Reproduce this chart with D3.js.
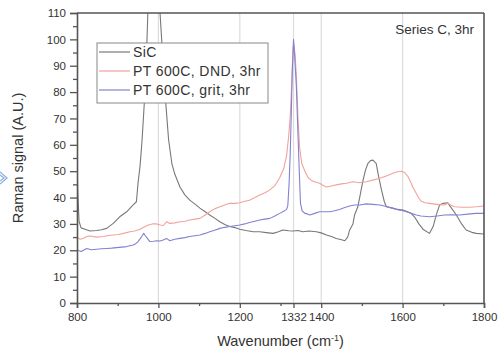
<!DOCTYPE html>
<html><head><meta charset="utf-8">
<script src="https://cdn.jsdelivr.net/npm/d3@7"></script>
<style>
html,body{margin:0;padding:0;background:#fff;}
svg text{font-family:"Liberation Sans",Arial,Helvetica,sans-serif;fill:#333;}
</style></head>
<body><svg id="chart" width="502" height="357"></svg>
<script>
// ---- data ----
const sicWave = [800,802,805,810,820,832,848,860,873,889,905,922,938,946,950,955,960,967,972,976,982,988,995,1004,1010,1017,1025,1033,1040,1053,1065,1077,1090,1102,1115,1126,1140,1151,1163,1175,1188,1200,1215,1233,1249,1265,1282,1295,1306,1320,1331,1343,1355,1370,1388,1400,1413,1425,1437,1450,1458,1465,1470,1478,1482,1490,1497,1503,1509,1515,1521,1527,1535,1541,1548,1555,1560,1576,1588,1601,1612,1621,1630,1640,1650,1666,1675,1683,1691,1700,1711,1720,1732,1745,1756,1770,1781,1800];
const sicSignal = [55,42,31,28.5,28,27.3,27.5,27.8,28.3,30.2,32.7,34.6,37.2,38.4,45.5,52,62,80,100,120,160,180,150,110,95,78,62,53,49,44,41,39,37.5,36,34.6,33.4,32,30.8,29.8,29,28.6,28,27.5,27,27,26.7,26.4,27,27.7,27.4,27.3,27.5,27,27.3,27,26.6,25.8,25.2,24.5,24,23.6,25,27.7,30,33.4,36.5,42,46.7,50.5,53,54,54.2,53,48,43,38.5,36.5,36,35.5,35.3,34.6,34,32.5,30,28,26.4,29,33.5,37.2,37.8,38,36,33.4,30,27.7,26.8,26.4,26.2];

const dndWave = [800,808,815,825,832,848,865,878,889,902,914,930,942,955,965,975,985,996,1004,1012,1020,1028,1040,1053,1065,1077,1090,1102,1115,1126,1138,1151,1163,1175,1188,1200,1212,1224,1237,1249,1262,1274,1286,1298,1308,1315,1320,1324,1328,1331,1333,1336,1339,1343,1347,1352,1360,1368,1376,1387,1396,1405,1413,1425,1437,1450,1462,1478,1494,1511,1527,1544,1560,1576,1588,1597,1605,1613,1620,1625,1632,1638,1645,1655,1666,1680,1690,1703,1711,1720,1728,1745,1764,1782,1800];
const dndSignal = [24.9,24.2,24.5,25.3,25.4,25,25.2,25.6,25.8,26,26.4,27,27.3,28,28.8,29.6,30,30,29.6,29.4,30.8,30.2,30.4,30.8,31,31.5,31.8,32.1,33.4,34.6,35.7,36.5,37.2,37.8,37.8,38,38.6,39,40,41,41.8,42.9,44.5,47.5,51,56,63,71,85,97,98,94,86,70,59,53,50,47.5,46.5,45.8,45.4,44.6,44,44.4,44.8,45.2,45.4,46,45.6,46,46.6,47.3,48.2,49.2,49.8,50,49.5,48,45.8,44,42,40.3,38.7,38,37.8,37.5,37.3,37.2,37.8,37,36.5,36.3,36.3,36.5,36.8];

const gritWave = [800,810,824,835,848,860,873,885,897,910,922,938,945,950,955,959,964,968,973,979,988,996,1004,1012,1020,1028,1040,1053,1065,1077,1090,1102,1115,1126,1138,1151,1163,1175,1188,1200,1212,1224,1237,1249,1262,1274,1286,1298,1308,1315,1318,1321,1324,1327,1329,1332,1335,1339,1342,1346,1349,1353,1360,1366,1372,1384,1396,1408,1421,1433,1445,1458,1470,1482,1494,1511,1527,1544,1560,1576,1588,1601,1613,1625,1634,1645,1666,1685,1703,1720,1740,1760,1780,1800];
const gritSignal = [20.1,19.5,20.7,20.2,20.4,20.6,20.7,20.8,21,21.2,21.4,22,22.6,23.3,24.3,25.2,26.4,25.5,24.5,23.3,23.4,23.6,23.5,23.9,24.5,23.6,24.2,24.5,24.8,25.2,25.5,25.8,26.4,27,27.6,28.3,28.7,29,29.3,29.6,30,30.5,31,31.5,31.8,32.1,33,34,34.8,35.5,37,45,57,75,88,100,93,82,68,50.5,38,35,34,33.8,33.4,34,34.6,34.6,34.6,35,35.5,36.2,36.8,37.2,37.2,37.6,37.4,37.2,36.6,35.9,35.4,35,34.4,33.8,33.4,33,32.7,33,33.4,33.5,33.4,33.7,34,34];

const seriesNames = ["SiC","PT 600C, DND, 3hr","PT 600C, grit, 3hr"];
const seriesColors = ["#787878","#f2a29c","#8282d2"];
const xMajorTicks = [800,1000,1200,1332,1400,1600,1800];
const xMinorTicks = [900,1100,1300,1500,1700];
const yMajorTicks = [0,10,20,30,40,50,60,70,80,90,100,110];
const yMinorTicks = [5,15,25,35,45,55,65,75,85,95,105];
const gridWaves = [1000,1200,1332,1400,1600];

// ---- layout ----
const svg = d3.select("#chart");
const L = 77, R = 484, T = 13, B = 303;
const x = d3.scaleLinear().domain([800,1800]).range([L,R]);
const y = d3.scaleLinear().domain([0,110]).range([B,T]);

svg.append("defs").append("clipPath").attr("id","plotclip")
  .append("rect").attr("x",L).attr("y",T).attr("width",R-L).attr("height",B-T);

// grid lines
svg.append("g").selectAll("line").data(gridWaves).join("line")
  .attr("x1",d=>x(d)).attr("x2",d=>x(d)).attr("y1",T).attr("y2",B)
  .attr("stroke","#dcdcdc").attr("stroke-width",1.2);

// series
const series = [
  {w:sicWave, v:sicSignal},
  {w:dndWave, v:dndSignal},
  {w:gritWave, v:gritSignal}
];
const line = d3.line().x(d=>x(d[0])).y(d=>y(d[1])).curve(d3.curveLinear);
const gLines = svg.append("g").attr("clip-path","url(#plotclip)");
series.forEach((s,i)=>{
  gLines.append("path").datum(s.w.map((w,j)=>[w,s.v[j]]))
    .attr("d",line).attr("fill","none")
    .attr("stroke",seriesColors[i]).attr("stroke-width",1.1)
    .attr("stroke-linejoin","round");
});

// axes
const axisColor = "#555";
const gx = svg.append("g").attr("transform",`translate(0,${B})`)
  .call(d3.axisBottom(x).tickValues(xMajorTicks).tickSize(5).tickPadding(5).tickFormat(d3.format("d")));
const gxm = svg.append("g").attr("transform",`translate(0,${B})`)
  .call(d3.axisBottom(x).tickValues(xMinorTicks).tickSize(3).tickFormat(""));
const gy = svg.append("g").attr("transform",`translate(${L},0)`)
  .call(d3.axisLeft(y).tickValues(yMajorTicks).tickSize(7).tickPadding(4).tickFormat(d3.format("d")));
const gym = svg.append("g").attr("transform",`translate(${L},0)`)
  .call(d3.axisLeft(y).tickValues(yMinorTicks).tickSize(4).tickFormat(""));
[gx,gxm,gy,gym].forEach(g=>{
  g.selectAll(".domain").attr("stroke",axisColor).attr("stroke-width",1.6);
  g.selectAll(".tick line").attr("stroke",axisColor).attr("stroke-width",1.3);
  g.selectAll(".tick text").attr("fill","#333").style("font-size","11.5px")
   .style("font-family","'Liberation Sans',Arial,sans-serif");
});
gxm.select(".domain").remove(); gym.select(".domain").remove();

// frame top and right
svg.append("line").attr("x1",L).attr("x2",R).attr("y1",T).attr("y2",T)
  .attr("stroke",axisColor).attr("stroke-width",1.6);
svg.append("line").attr("x1",R).attr("x2",R).attr("y1",T).attr("y2",B)
  .attr("stroke",axisColor).attr("stroke-width",1.6);

// axis titles
const xt = svg.append("text").attr("x",(L+R)/2).attr("y",346)
  .attr("text-anchor","middle").style("font-size","14.5px");
xt.append("tspan").text("Wavenumber (cm");
xt.append("tspan").attr("dy",-5).style("font-size","9px").text("-1");
xt.append("tspan").attr("dy",5).text(")");
svg.append("text").attr("transform",`translate(23,${(T+B)/2}) rotate(-90)`)
  .attr("text-anchor","middle").style("font-size","14.5px").text("Raman signal (A.U.)");

// annotation
svg.append("text").attr("x",474).attr("y",34).attr("text-anchor","end")
  .style("font-size","13.5px").text("Series C, 3hr");

// legend
const lg = svg.append("g");
lg.append("rect").attr("x",97).attr("y",43).attr("width",171).attr("height",60)
  .attr("fill","#fff").attr("stroke","#888").attr("stroke-width",1);
seriesNames.forEach((n,i)=>{
  const yy = 52 + i*19;
  lg.append("line").attr("x1",99).attr("x2",130).attr("y1",yy).attr("y2",yy)
    .attr("stroke",seriesColors[i]).attr("stroke-width",1.2);
  lg.append("text").attr("x",133).attr("y",yy+5).style("font-size","14px")
    .style("letter-spacing","0.4px").text(n);
});

// small blue arrow fragment at left edge (image artefact)
svg.append("path").attr("d","M0,172 L7,178 L0,184 M0,175 L4,178 L0,181")
  .attr("fill","none").attr("stroke","#8fb0e0").attr("stroke-width",1.3);
</script></body></html>
